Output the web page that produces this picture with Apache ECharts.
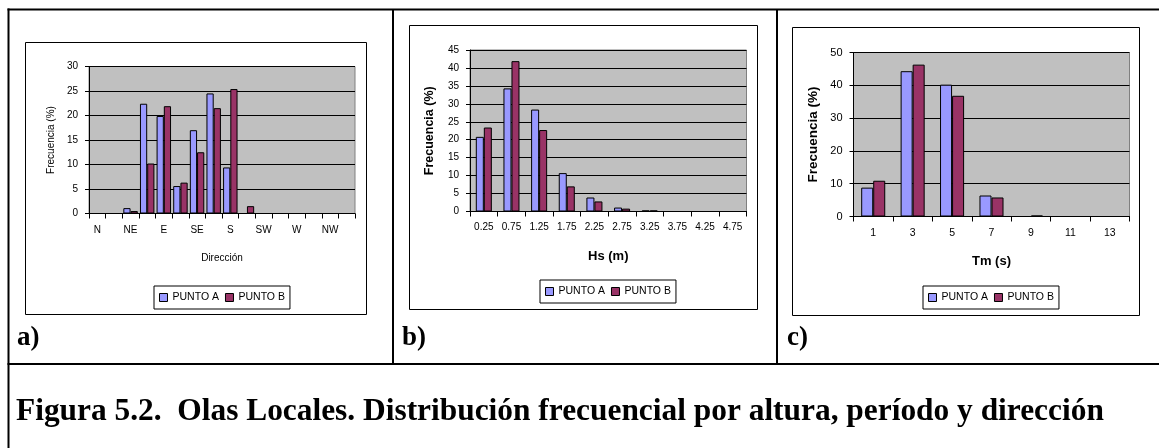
<!DOCTYPE html>
<html>
<head>
<meta charset="utf-8">
<script src="https://cdn.jsdelivr.net/npm/echarts@6/dist/echarts.min.js"></script>
<style>
html,body{margin:0;padding:0;background:#fff;}
#chart{width:1159px;height:448px;}
</style>
</head>
<body>
<div id="chart"></div>
<script>
// ---- data ----
var seriesNames = ['PUNTO A', 'PUNTO B'];

var dirCategories = ['N','NNE','NE','ENE','E','ESE','SE','SSE','S','SSW','SW','WSW','W','WNW','NW','NNW'];
var dirPuntoA = [0, 0, 1.1, 22.4, 19.9, 5.6, 17.0, 24.5, 9.4, 0, 0, 0, 0, 0, 0, 0];
var dirPuntoB = [0, 0, 0.5, 10.2, 21.9, 6.3, 12.5, 21.5, 25.4, 1.5, 0, 0, 0, 0, 0, 0];

var hsCategories = ['0.25','0.75','1.25','1.75','2.25','2.75','3.25','3.75','4.25','4.75'];
var hsPuntoA = [20.8, 34.3, 28.4, 10.7, 3.9, 1.1, 0.3, 0, 0, 0];
var hsPuntoB = [23.4, 41.9, 22.7, 7.0, 2.8, 0.8, 0.3, 0, 0, 0];

var tmCategories = ['1','3','5','7','9','11','13'];
var tmPuntoA = [8.8, 44.3, 40.2, 6.4, 0, 0, 0];
var tmPuntoB = [10.9, 46.3, 36.8, 5.8, 0.3, 0, 0];

var captionText = 'Figura 5.2.  Olas Locales. Distribución frecuencial por altura, período y dirección';
var panelLabels = ['a)', 'b)', 'c)'];
var xTitles = ['Dirección', 'Hs (m)', 'Tm (s)'];
var yTitle = 'Frecuencia (%)';

// ---- styling ----
var SANS = "'Liberation Sans', Arial, sans-serif";
var SERIF = "'Liberation Serif', 'Times New Roman', serif";
var colA = '#9999FF', colB = '#993366';

function xAxisCfg(idx, cats, labelInterval, fs, margin, title, titleFs, titleBold, gap) {
  return {
    type: 'category', gridIndex: idx, data: cats,
    axisLine: {lineStyle: {color: '#000', width: 1}},
    axisTick: {show: true, interval: 0, length: 5, lineStyle: {color: '#000'}},
    axisLabel: {interval: labelInterval, fontSize: fs, color: '#000', margin: margin, fontFamily: SANS},
    splitLine: {show: false},
    name: title, nameLocation: 'middle', nameGap: gap,
    nameTextStyle: {fontSize: titleFs, fontWeight: titleBold ? 'bold' : 'normal', color: '#000', fontFamily: SANS}
  };
}
function yAxisCfg(idx, max, interval, fs, titleFs, titleBold, gap) {
  return {
    type: 'value', gridIndex: idx, min: 0, max: max, interval: interval,
    axisLine: {show: true, lineStyle: {color: '#000', width: 1}},
    axisTick: {show: true, length: 4, lineStyle: {color: '#000'}},
    axisLabel: {fontSize: fs, color: '#000', margin: 11, fontFamily: SANS},
    splitLine: {show: true, lineStyle: {color: '#000', width: 1}},
    name: yTitle, nameLocation: 'middle', nameGap: gap,
    nameTextStyle: {fontSize: titleFs, fontWeight: titleBold ? 'bold' : 'normal', color: '#000', fontFamily: SANS}
  };
}
function barSeries(name, idx, data, color, catGap) {
  return {
    type: 'bar', name: name, xAxisIndex: idx, yAxisIndex: idx, data: data,
    barGap: '0%', barCategoryGap: catGap,
    itemStyle: {color: color, borderColor: '#000', borderWidth: 1},
    emphasis: {disabled: true}, animation: false
  };
}
function legendCfg(left, top) {
  return {
    data: seriesNames, left: left, top: top, orient: 'horizontal',
    padding: [6, 5], itemGap: 6, itemWidth: 8, itemHeight: 8, icon: 'rect',
    borderColor: '#000', borderWidth: 1, backgroundColor: '#fff',
    itemStyle: {borderColor: '#000', borderWidth: 1},
    textStyle: {fontSize: 10.5, color: '#000', fontFamily: SANS},
    selectedMode: false
  };
}
function line(x1, y1, x2, y2, w) {
  return {type: 'line', silent: true, z: 100, shape: {x1: x1, y1: y1, x2: x2, y2: y2}, style: {stroke: '#000', lineWidth: w}};
}
function box(x, y, w, h) {
  return {type: 'rect', silent: true, z: -10, shape: {x: x, y: y, width: w, height: h}, style: {fill: '#fff', stroke: '#000', lineWidth: 1}};
}
function label(txt, x, y, fs) {
  return {type: 'text', silent: true, z: 100, x: x, y: y, style: {text: txt, font: 'bold ' + fs + 'px ' + SERIF, fill: '#000', verticalAlign: 'top'}};
}

var chart = echarts.init(document.getElementById('chart'), null, {renderer: 'canvas'});
chart.setOption({
  animation: false,
  backgroundColor: '#fff',
  grid: [
    {left: 89, top: 66.5, width: 266, height: 147, show: true, backgroundColor: '#C0C0C0', borderColor: '#808080', borderWidth: 1},
    {left: 470, top: 50, width: 276.5, height: 161.5, show: true, backgroundColor: '#C0C0C0', borderColor: '#808080', borderWidth: 1},
    {left: 853.5, top: 52.5, width: 276, height: 164, show: true, backgroundColor: '#C0C0C0', borderColor: '#808080', borderWidth: 1}
  ],
  xAxis: [
    xAxisCfg(0, dirCategories, 1, 10, 12, xTitles[0], 10, false, 40),
    xAxisCfg(1, hsCategories, 0, 10, 11, xTitles[1], 13, true, 38),
    xAxisCfg(2, tmCategories, 0, 10.5, 11, xTitles[2], 13, true, 38)
  ],
  yAxis: [
    yAxisCfg(0, 30, 5, 10, 10, false, 33),
    yAxisCfg(1, 45, 5, 10, 12.5, true, 34),
    yAxisCfg(2, 50, 10, 11, 13.5, true, 33)
  ],
  legend: [legendCfg(154, 286), legendCfg(540, 280), legendCfg(923, 286)],
  series: [
    barSeries(seriesNames[0], 0, dirPuntoA, colA, '13%'),
    barSeries(seriesNames[1], 0, dirPuntoB, colB, '13%'),
    barSeries(seriesNames[0], 1, hsPuntoA, colA, '42%'),
    barSeries(seriesNames[1], 1, hsPuntoB, colB, '42%'),
    barSeries(seriesNames[0], 2, tmPuntoA, colA, '39%'),
    barSeries(seriesNames[1], 2, tmPuntoB, colB, '39%')
  ],
  graphic: [
    box(25.5, 42.5, 341, 272),
    box(409.5, 25.5, 348, 284),
    box(792.5, 27.5, 347, 288),
    line(7.5, 9.5, 1159, 9.5, 2),
    line(8.5, 8.5, 8.5, 448, 2),
    line(393, 9.5, 393, 364, 2),
    line(777, 9.5, 777, 364, 2),
    line(7.5, 364, 1159, 364, 2),
    label(panelLabels[0], 17, 325, 27),
    label(panelLabels[1], 402, 325, 27),
    label(panelLabels[2], 787, 325, 27),
    label(captionText, 16, 396, 31.4)
  ]
});
</script>
</body>
</html>
